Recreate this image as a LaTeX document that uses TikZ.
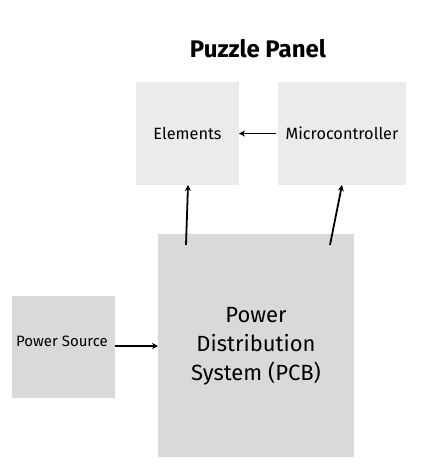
\documentclass[tikz,border=0pt]{standalone}
\usepackage{fontspec}
\setmainfont{Fira Sans}
\usetikzlibrary{arrows.meta}
\definecolor{boxlight}{HTML}{EBEBEB}
\definecolor{boxdark}{HTML}{D9D9D9}
\tikzset{
  blk/.style={draw=none, inner sep=0pt, outer sep=0pt, align=center},
  arr/.style={line width=1.8pt, -{Stealth[length=6pt,width=6pt]}}
}
\begin{document}
\begin{tikzpicture}[x=1pt,y=-1pt]
\useasboundingbox[fill=white] (0,0) rectangle (423,472);
\node[blk, fill=boxlight, minimum width=103pt, minimum height=103pt] (elem) at (187.5,133.5) {};
\node[font=\fontsize{16.3}{19}\selectfont, inner sep=0pt] (elemt) at (elem.center) {Elements};
\node[blk, fill=boxlight, minimum width=128pt, minimum height=103pt] (micro) at (342,133.5) {};
\node[font=\fontsize{16.3}{19}\selectfont, inner sep=0pt] (microt) at (micro.center) {Microcontroller};
\node[blk, fill=boxdark, minimum width=196pt, minimum height=223pt] (pcb) at (256,345.5) {};
\node[align=center, font=\fontsize{22}{29}\selectfont, inner sep=0pt] (pcbt) at (256,346) {Power\\Distribution\\System (PCB)};
\node[blk, fill=boxdark, minimum width=103pt, minimum height=102pt] (src) at (63.5,347) {};
\node[font=\fontsize{15}{18}\selectfont, inner sep=0pt] (srct) at (62,341) {Power Source};
\node[font=\bfseries\fontsize{24}{28}\selectfont, inner sep=0pt] (title) at (258,49) {Puzzle Panel};
\draw[arr] ([xshift=-2pt]micro.west) -- (elem.east);
\draw[arr] ([xshift=28pt,yshift=-11pt]pcb.north west) -- ([xshift=52pt]elem.south west);
\draw[arr] ([xshift=172pt,yshift=-11pt]pcb.north west) -- ([xshift=64pt]micro.south west);
\draw[arr] (src.east |- 0,346) -- (pcb.west |- 0,346);
\end{tikzpicture}
\end{document}
